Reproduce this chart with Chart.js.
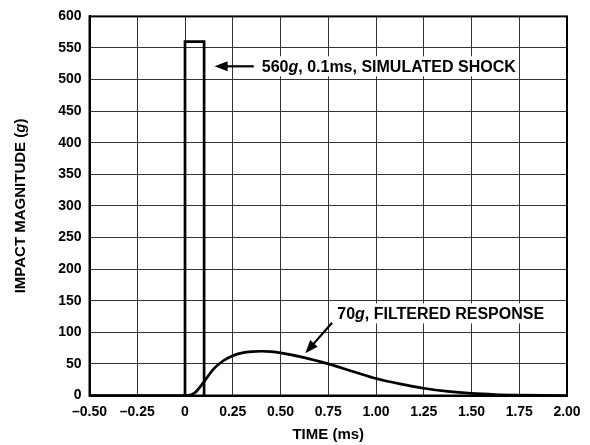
<!DOCTYPE html>
<html>
<head>
<meta charset="utf-8">
<script src="https://cdn.jsdelivr.net/npm/chart.js@4"></script>
<style>
  body { margin: 0; background: #fff; }
</style>
</head>
<body>
<canvas id="mycanvas" width="590" height="445"></canvas>
<script>
// simulated shock pulse (ms, g)
var shockTime = [0, 0, 0.1, 0.1];
var shockG = [0, 560, 560, 0];

// filtered response (ms, g)
var respTime = [-0.5, 0, 0.05, 0.1, 0.15, 0.2, 0.25, 0.3, 0.35, 0.4, 0.45, 0.5, 0.625, 0.75, 0.875, 1.0, 1.125, 1.25, 1.375, 1.5, 1.625, 1.75, 1.875, 2.0];
var respG = [0, 0, 4, 22, 42, 55, 63, 67.5, 69.5, 70, 69.3, 67.5, 60, 50, 38.5, 27, 18.5, 11.5, 6.5, 3.3, 1.5, 0.6, 0.2, 0];

var xTickLabels = ['–0.50', '–0.25', '0', '0.25', '0.50', '0.75', '1.00', '1.25', '1.50', '1.75', '2.00'];
var yTickLabels = ['0', '50', '100', '150', '200', '250', '300', '350', '400', '450', '500', '550', '600'];

function pts(xs, ys) {
	var out = [];
	for (var i = 0; i < xs.length; i++) out.push({x: xs[i], y: ys[i]});
	return out;
}

var font = '"Liberation Sans", Arial, sans-serif';

// annotations: text parts [text, italic], label anchor and arrow ends in data units
var notes = [
	{parts: [['560', false], ['g', true], [', 0.1ms, SIMULATED SHOCK', false]], x: 0.402, y: 521, from: [0.36, 521], to: [0.155, 521]},
	{parts: [['70', false], ['g', true], [', FILTERED RESPONSE', false]], x: 0.797, y: 130, from: [0.77, 115], to: [0.63, 67]}
];

function drawParts(ctx, parts, x, y, size) {
	var cx = x;
	parts.forEach(function(p) {
		ctx.font = (p[1] ? 'italic ' : '') + 'bold ' + size + 'px ' + font;
		ctx.fillText(p[0], cx, y);
		cx += ctx.measureText(p[0]).width;
	});
	return cx - x;
}

function partsWidth(ctx, parts, size) {
	var w = 0;
	parts.forEach(function(p) {
		ctx.font = (p[1] ? 'italic ' : '') + 'bold ' + size + 'px ' + font;
		w += ctx.measureText(p[0]).width;
	});
	return w;
}

var notePlugin = {
	id: 'notes',
	afterDatasetsDraw: function(chart) {
		var ctx = chart.ctx;
		var xs = chart.scales.x, ys = chart.scales.y;
		ctx.save();
		notes.forEach(function(n) {
			var px = xs.getPixelForValue(n.x), py = ys.getPixelForValue(n.y);
			var w = partsWidth(ctx, n.parts, 16);
			ctx.fillStyle = '#fff';
			ctx.fillRect(px - 3, py - 10, w + 6, 20);
			ctx.fillStyle = '#000';
			ctx.textBaseline = 'middle';
			drawParts(ctx, n.parts, px, py + 1, 16);
			// arrow
			var x1 = xs.getPixelForValue(n.from[0]), y1 = ys.getPixelForValue(n.from[1]);
			var x2 = xs.getPixelForValue(n.to[0]), y2 = ys.getPixelForValue(n.to[1]);
			var a = Math.atan2(y2 - y1, x2 - x1);
			var hl = 13, hw = 5;
			ctx.strokeStyle = '#000';
			ctx.lineWidth = 2.2;
			ctx.beginPath();
			ctx.moveTo(x1, y1);
			ctx.lineTo(x2 - Math.cos(a) * hl * 0.8, y2 - Math.sin(a) * hl * 0.8);
			ctx.stroke();
			ctx.beginPath();
			ctx.moveTo(x2, y2);
			ctx.lineTo(x2 - Math.cos(a) * hl - Math.sin(a) * hw, y2 - Math.sin(a) * hl + Math.cos(a) * hw);
			ctx.lineTo(x2 - Math.cos(a) * hl + Math.sin(a) * hw, y2 - Math.sin(a) * hl - Math.cos(a) * hw);
			ctx.closePath();
			ctx.fill();
		});
		ctx.restore();
	},
	afterDraw: function(chart) {
		var a = chart.chartArea, c = chart.ctx;
		c.save();
		c.strokeStyle = '#000';
		c.lineWidth = 2;
		c.strokeRect(a.left, a.top, a.right - a.left, a.bottom - a.top);
		// y axis title with italic g
		var parts = [['IMPACT MAGNITUDE (', false], ['g', true], [')', false]];
		var w = partsWidth(c, parts, 15);
		c.translate(21, (a.top + a.bottom) / 2);
		c.rotate(-Math.PI / 2);
		c.fillStyle = '#000';
		c.textBaseline = 'middle';
		drawParts(c, parts, -w / 2, 0, 15);
		c.restore();
	}
};

var ctx = document.getElementById('mycanvas');

var chart = new Chart(ctx, {
	type: 'line',
	data: {
		datasets: [
			{
				label: 'response',
				data: pts(respTime, respG),
				borderColor: '#000',
				borderWidth: 2.7,
				pointRadius: 0,
				fill: false,
				cubicInterpolationMode: 'monotone'
			},
			{
				label: 'shock',
				data: pts(shockTime, shockG),
				borderColor: '#000',
				borderWidth: 2.7,
				pointRadius: 0,
				fill: false,
				tension: 0
			}
		]
	},
	options: {
		responsive: false,
		devicePixelRatio: 1,
		animation: false,
		layout: {padding: {left: 0, right: 23, top: 14, bottom: 0}},
		plugins: {legend: {display: false}, tooltip: {enabled: false}},
		scales: {
			x: {
				type: 'linear',
				min: -0.5,
				max: 2,
				ticks: {
					stepSize: 0.25,
					color: '#000',
					padding: 8,
					maxRotation: 0,
					autoSkip: false,
					font: {family: font, size: 14, weight: 'bold'},
					callback: function(v, i) { return xTickLabels[i]; }
				},
				grid: {color: '#333', lineWidth: 1, drawTicks: false},
				border: {color: '#000', width: 2},
				title: {
					display: true,
					text: 'TIME (ms)',
					color: '#000',
					padding: {top: 1, bottom: 1},
					font: {family: font, size: 15, weight: 'bold'}
				},
				afterFit: function(s) { s.height = 49.5; }
			},
			y: {
				min: 0,
				max: 600,
				ticks: {
					stepSize: 50,
					color: '#000',
					padding: 8,
					font: {family: font, size: 14, weight: 'bold'},
					callback: function(v, i) { return yTickLabels[i]; }
				},
				grid: {color: '#333', lineWidth: 1, drawTicks: false},
				border: {color: '#000', width: 2},
				afterFit: function(s) { s.width = 89.5; }
			}
		}
	},
	plugins: [notePlugin]
});
</script>
</body>
</html>
